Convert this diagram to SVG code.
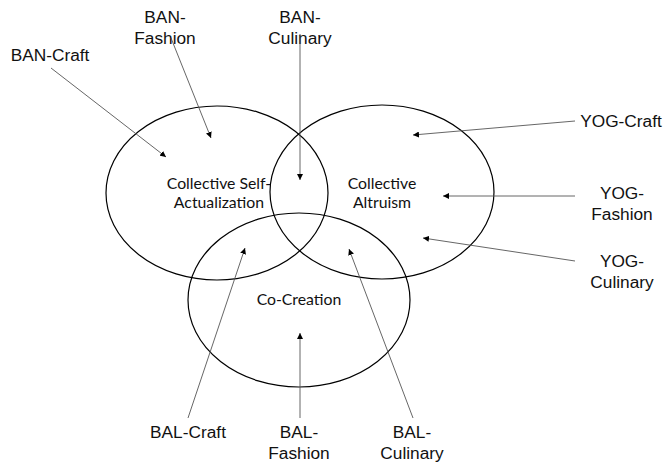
<svg xmlns="http://www.w3.org/2000/svg" width="668" height="464" viewBox="0 0 668 464">
  <defs>
    <marker id="arrow" viewBox="0 0 10 10" refX="10" refY="5" markerWidth="6" markerHeight="6" markerUnits="userSpaceOnUse" orient="auto">
      <path d="M0,0 L10,5 L0,10 z" fill="#000"/>
    </marker>
  </defs>
  <style>
    .set { fill: none; stroke: #000; stroke-width: 1.2; }
    .setlabel { font-family: Lato, "Open Sans", sans-serif; font-size: 15.8px; fill: #111; text-anchor: middle; }
    .source { font-family: "Liberation Sans", Arial, sans-serif; font-size: 17.3px; fill: #111; text-anchor: middle; }
    .link { fill: none; stroke: #555; stroke-width: 0.9; marker-end: url(#arrow); }
  </style>
  <rect width="668" height="464" fill="#fff"/>

  <!-- overlapping sets -->
  <g id="set-self-actualization">
    <ellipse class="set" cx="217" cy="193" rx="111" ry="87"/>
    <text class="setlabel" x="219" y="189">Collective Self-</text>
    <text class="setlabel" x="219" y="208">Actualization</text>
  </g>
  <g id="set-altruism">
    <ellipse class="set" cx="382" cy="192" rx="112" ry="87"/>
    <text class="setlabel" x="382" y="189">Collective</text>
    <text class="setlabel" x="382" y="208">Altruism</text>
  </g>
  <g id="set-co-creation">
    <ellipse class="set" cx="299" cy="300" rx="111" ry="87"/>
    <text class="setlabel" x="299" y="305">Co-Creation</text>
  </g>

  <!-- source labels -->
  <g id="ban-craft"><text class="source" x="50" y="61">BAN-Craft</text></g>
  <g id="ban-fashion">
    <text class="source" x="165" y="23">BAN-</text>
    <text class="source" x="165" y="44">Fashion</text>
  </g>
  <g id="ban-culinary">
    <text class="source" x="300" y="23">BAN-</text>
    <text class="source" x="300" y="44">Culinary</text>
  </g>
  <g id="yog-craft"><text class="source" x="621" y="127">YOG-Craft</text></g>
  <g id="yog-fashion">
    <text class="source" x="622" y="199">YOG-</text>
    <text class="source" x="622" y="220">Fashion</text>
  </g>
  <g id="yog-culinary">
    <text class="source" x="622" y="267">YOG-</text>
    <text class="source" x="622" y="288">Culinary</text>
  </g>
  <g id="bal-craft"><text class="source" x="188" y="438">BAL-Craft</text></g>
  <g id="bal-fashion">
    <text class="source" x="299" y="438">BAL-</text>
    <text class="source" x="299" y="459">Fashion</text>
  </g>
  <g id="bal-culinary">
    <text class="source" x="412" y="438">BAL-</text>
    <text class="source" x="412" y="459">Culinary</text>
  </g>

  <!-- connectors -->
  <g id="connectors">
    <line class="link" x1="51" y1="68" x2="166" y2="157"/>
    <line class="link" x1="171" y1="38" x2="211" y2="138"/>
    <line class="link" x1="300" y1="34" x2="300" y2="180"/>
    <line class="link" x1="575" y1="121" x2="413" y2="135"/>
    <line class="link" x1="575" y1="196" x2="443" y2="196"/>
    <line class="link" x1="575" y1="261" x2="423" y2="238"/>
    <line class="link" x1="188" y1="418" x2="245" y2="248"/>
    <line class="link" x1="300" y1="418" x2="300" y2="333"/>
    <line class="link" x1="413" y1="418" x2="349" y2="249"/>
  </g>
</svg>
